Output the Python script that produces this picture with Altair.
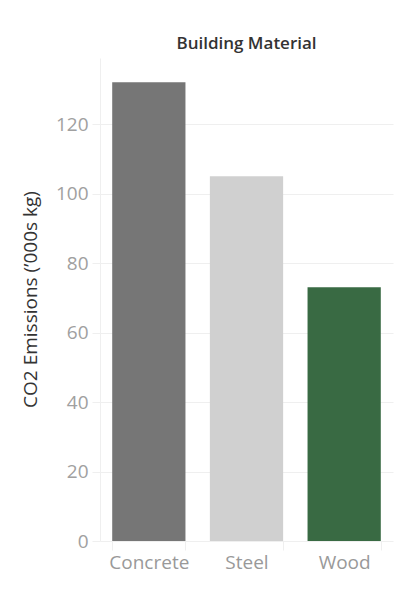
import altair as alt
import pandas as pd

materials = ["Concrete", "Steel", "Wood"]
emissions = [132, 105, 73]
colors = ["#767676", "#d0d0d0", "#396a43"]
y_ticks = [0, 20, 40, 60, 80, 100, 120]

df = pd.DataFrame({"Material": materials, "Emissions": emissions})

FONT = "Open Sans"
GRID = "#efefef"

chart = alt.Chart(df).mark_bar().encode(
    x=alt.X(
        "Material:N",
        sort=materials,
        scale=alt.Scale(paddingInner=0.25, paddingOuter=0.125),
        axis=alt.Axis(
            title=None,
            labelAngle=0,
            labelFont=FONT,
            labelFontSize=19,
            labelColor="#999999",
            labelPadding=3,
            tickBand="extent",
            tickSize=9,
            tickColor=GRID,
            domain=False,
            grid=False,
        ),
    ),
    y=alt.Y(
        "Emissions:Q",
        scale=alt.Scale(domain=[0, 139], nice=False),
        axis=alt.Axis(
            title="CO2 Emissions (\u2019000s kg)",
            values=y_ticks,
            titleFont=FONT,
            titleFontSize=19,
            titleFontWeight="normal",
            titleColor="#333333",
            titleX=-70,
            titleY=241,
            titleAngle=-90,
            titleAlign="center",
            titleBaseline="middle",
            labelFont=FONT,
            labelFontSize=19,
            labelColor="#a0a0a0",
            labelPadding=4,
            tickSize=8,
            tickColor=GRID,
            gridColor=GRID,
            domain=True,
            domainColor=GRID,
        ),
    ),
    color=alt.Color(
        "Material:N",
        scale=alt.Scale(domain=materials, range=colors),
        legend=None,
    ),
).properties(
    width=293,
    height=483,
    title=alt.TitleParams(
        "Building Material",
        anchor="middle",
        font=FONT,
        fontSize=17,
        fontWeight=600,
        color="#333333",
        offset=5,
    ),
    autosize=alt.AutoSizeParams(type="none"),
    padding={"left": 92, "top": 50, "right": 9, "bottom": 40},
).configure_view(stroke=None)

chart.save("out.html", embed_options={"renderer": "svg", "actions": False})
